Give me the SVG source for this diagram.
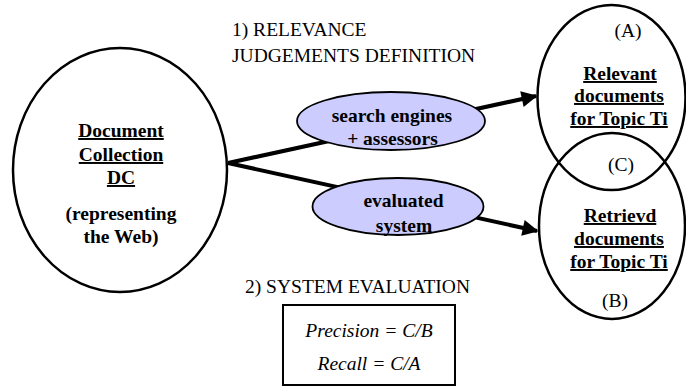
<svg xmlns="http://www.w3.org/2000/svg" width="686" height="387" viewBox="0 0 686 387">
<style>
.t{font-size:19.5px;fill:#000}
.b{font-weight:bold}
.u{text-decoration:underline}
.i{font-style:italic}
.c{text-anchor:middle}
.o{fill:none;stroke:#000;stroke-width:2.5}
.p{fill:#CCCCFF;stroke:#000;stroke-width:1.8}
.ln{stroke:#000;stroke-width:4;fill:none}
</style>
<defs>
<marker id="ah" viewBox="0 0 10 10" refX="9" refY="5" markerWidth="4.5" markerHeight="4" orient="auto" markerUnits="strokeWidth">
<path d="M0,0 L10,5 L0,10 z" fill="#000"/>
</marker>
</defs>
<rect width="686" height="387" fill="#fff"/>
<g id="connectors">
<line class="ln" x1="228" y1="163" x2="536" y2="96" marker-end="url(#ah)"/>
<line class="ln" x1="228" y1="163" x2="537" y2="231" marker-end="url(#ah)"/>
</g>
<g font-family="'Times New Roman', 'Liberation Serif', serif">
<g id="dc">
<ellipse class="o" cx="120" cy="170" rx="107" ry="122"/>
<text class="t b c u" x="121" y="137">Document</text>
<text class="t b c u" x="121" y="161">Collection</text>
<text class="t b c u" x="121" y="184">DC</text>
<text class="t b c" x="121" y="220">(representing</text>
<text class="t b c" x="121" y="243">the Web)</text>
</g>
<g id="relevant">
<ellipse class="o" cx="611.5" cy="97.5" rx="74" ry="92.5"/>
<text class="t c" x="628" y="37">(A)</text>
<text class="t b c u" x="620" y="80">Relevant</text>
<text class="t b c u" x="619" y="102">documents</text>
<text class="t b c u" x="619" y="125">for Topic Ti</text>
</g>
<g id="retrieved">
<ellipse class="o" cx="612" cy="226" rx="73" ry="93"/>
<text class="t c" x="621" y="171">(C)</text>
<text class="t b c u" x="620" y="222">Retrievd</text>
<text class="t b c u" x="619" y="245">documents</text>
<text class="t b c u" x="619" y="268">for Topic Ti</text>
<text class="t c" x="615" y="307">(B)</text>
</g>
<g id="search">
<ellipse class="p" cx="391" cy="121" rx="94" ry="29"/>
<text class="t b c" x="392" y="122">search engines</text>
<text class="t b c" x="392.5" y="145">+ assessors</text>
</g>
<g id="evaluated">
<ellipse class="p" cx="398" cy="206.5" rx="85.5" ry="28.5"/>
<text class="t b c" x="403.5" y="207">evaluated</text>
<text class="t b c" x="404" y="232">system</text>
</g>
<g id="labels">
<text class="t" x="232" y="36">1) RELEVANCE</text>
<text class="t" x="232" y="62">JUDGEMENTS DEFINITION</text>
<text class="t" x="245" y="293">2) SYSTEM EVALUATION</text>
</g>
<g id="formula">
<rect x="283" y="305" width="172" height="80" fill="#fff" stroke="#000" stroke-width="2"/>
<text class="t i c" x="369" y="337">Precision = C/B</text>
<text class="t i c" x="369" y="370">Recall = C/A</text>
</g>
</g>
</svg>
